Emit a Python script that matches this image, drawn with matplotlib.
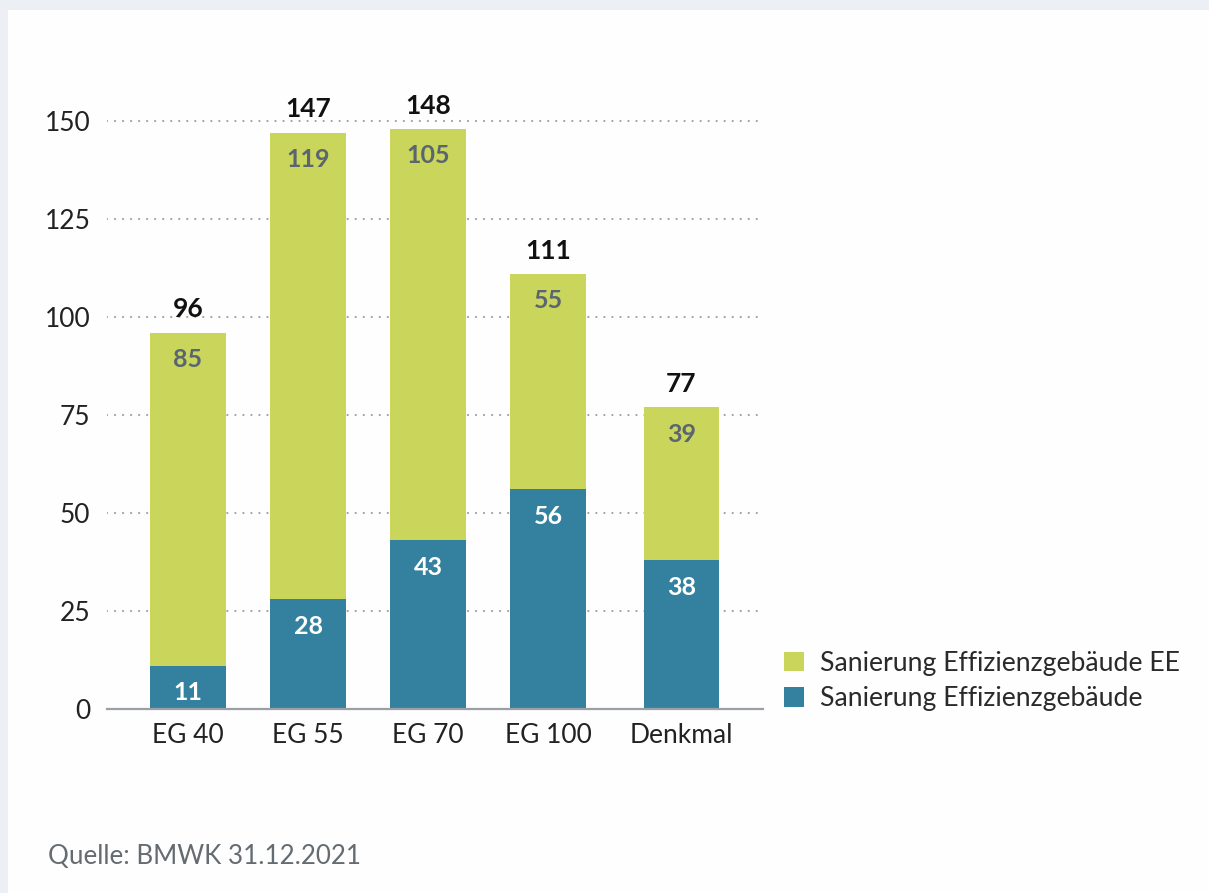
import matplotlib
matplotlib.use("Agg")
import matplotlib.pyplot as plt
from matplotlib.patches import Rectangle
import numpy as np

categories = ["EG 40", "EG 55", "EG 70", "EG 100", "Denkmal"]
positions = [0, 1, 2, 3, 4.11]
sanierung_eg = [11, 28, 43, 56, 38]
sanierung_eg_ee = [85, 119, 105, 55, 39]
totals = [96, 147, 148, 111, 77]
yticks = [0, 25, 50, 75, 100, 125, 150]
legend_labels = ["Sanierung Effizienzgebäude EE", "Sanierung Effizienzgebäude"]
source = "Quelle: BMWK 31.12.2021"

GREEN = "#c9d65b"
BLUE = "#34819f"
GRID = "#9ea2a6"
TEXT = "#222222"

plt.rcParams["font.family"] = ["Lato", "DejaVu Sans"]

W, H = 1209, 893
fig = plt.figure(figsize=(W / 100, H / 100), dpi=100)
fig.patch.set_facecolor("#eceff4")
# white card
fig.patches.append(Rectangle((8 / W, 0), 1, 1 - 10 / H, transform=fig.transFigure,
                             facecolor="#fefefe", edgecolor="none", zorder=-10))

ax_left, ax_right = 107, 763
y0_px, px_per_unit = 709, 3.92
ymax = 160
ax_bottom = (H - y0_px) / H
ax_height = ymax * px_per_unit / H
ax = fig.add_axes([ax_left / W, ax_bottom, (ax_right - ax_left) / W, ax_height])
ax.set_facecolor("none")
ax.set_zorder(2)

bw = 0.63
ax.bar(positions, sanierung_eg, width=bw, color=BLUE, zorder=3,
       label=legend_labels[1])
ax.bar(positions, sanierung_eg_ee, width=bw, bottom=sanierung_eg, color=GREEN,
       zorder=3, label=legend_labels[0])

ax.set_xlim(-0.675, 4.79)
ax.set_ylim(0, ymax)
ax.set_yticks(yticks)
ax.set_yticklabels([str(v) for v in yticks], fontsize=19, color=TEXT)
ax.set_xticks(positions)
ax.set_xticklabels(categories, fontsize=19, color=TEXT)
ax.tick_params(axis="both", length=0)
ax.tick_params(axis="y", pad=12)
ax.tick_params(axis="x", pad=10)

for s in ["top", "right", "left"]:
    ax.spines[s].set_visible(False)
ax.spines["bottom"].set_color("#9aa0a6")
ax.spines["bottom"].set_linewidth(1.6)
ax.spines["bottom"].set_zorder(4)

for v in yticks[1:]:
    ax.axhline(v, color=GRID, lw=1.6, linestyle=(0, (0.01, 3.6)),
               dash_capstyle="round", zorder=1)

for x, b, g, t in zip(positions, sanierung_eg, sanierung_eg_ee, totals):
    ax.annotate(str(t), (x, b + g), xytext=(0, 11), textcoords="offset points",
                ha="center", va="baseline", fontsize=19, fontweight="bold",
                color="#111111", zorder=5)
    ax.annotate(str(g), (x, b + g), xytext=(0, -19.5), textcoords="offset points",
                ha="center", va="center", fontsize=18, fontweight="bold",
                color="#5a6570", zorder=5)
    ax.annotate(str(b), (x, b), xytext=(0, -19.5), textcoords="offset points",
                ha="center", va="center", fontsize=18, fontweight="bold",
                color="white", zorder=5)

handles, labels = ax.get_legend_handles_labels()
leg = fig.legend(handles[::-1], labels[::-1], loc="center left",
                 bbox_to_anchor=(760 / W, 1 - 681 / H), frameon=False,
                 fontsize=19.2, handlelength=0.75, handleheight=0.75,
                 handletextpad=0.6, labelspacing=0.4, labelcolor="#2a2a2a")

fig.text(48 / W, 1 - 856 / H, source, fontsize=18.7, color="#646c71",
         ha="left", va="center")

fig.savefig("out.png", dpi=100, facecolor=fig.get_facecolor())
